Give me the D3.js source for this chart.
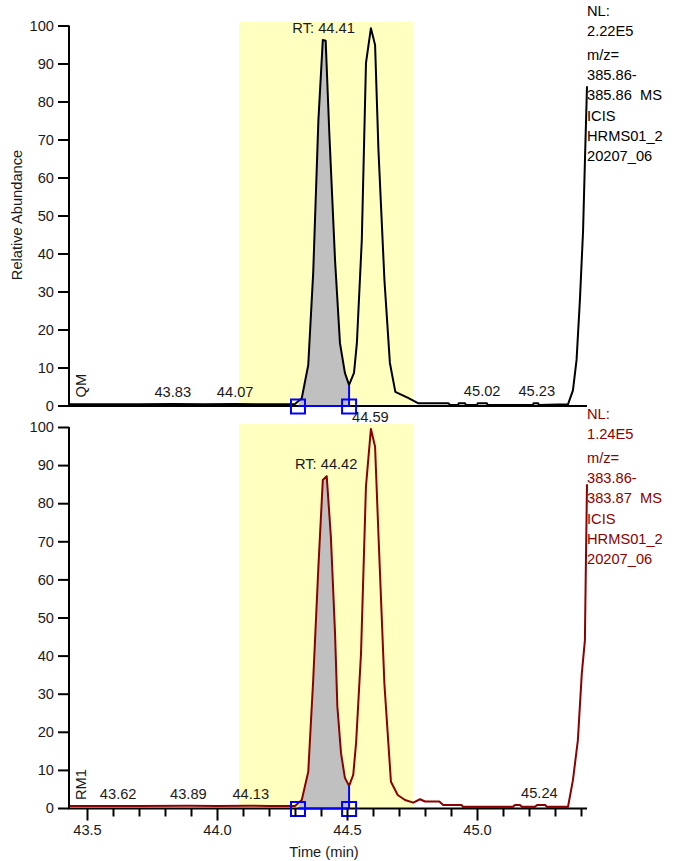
<!DOCTYPE html>
<html><head><meta charset="utf-8">
<script src="https://cdn.jsdelivr.net/npm/d3@7"></script>
<style>
html,body{margin:0;padding:0;background:#fff;}
svg{display:block;font-family:"Liberation Sans",Arial,sans-serif;}
</style></head>
<body>
<svg id="chart" width="674" height="861"></svg>
<script>
// ---- data ----
const xDomain = [43.4308, 45.4231];
const yDomain = [0, 100];
const yTicks = [0, 10, 20, 30, 40, 50, 60, 70, 80, 90, 100];
const xMajorTicks = [43.5, 44.0, 44.5, 45.0];
const xMinorTicks = [43.6, 43.7, 43.8, 43.9, 44.1, 44.2, 44.3, 44.4, 44.6, 44.7, 44.8, 44.9, 45.1, 45.2, 45.3, 45.4];
const highlightRange = [44.085, 44.754];
const integrationRange = [44.3115, 44.508];

const topTime = [43.431, 43.55, 43.70, 43.83, 43.95, 44.07, 44.20, 44.30, 44.326, 44.351, 44.370, 44.390, 44.407, 44.418, 44.432, 44.454, 44.473, 44.492, 44.508, 44.527, 44.538, 44.557, 44.573, 44.592, 44.608, 44.621, 44.644, 44.665, 44.686, 44.698, 44.735, 44.773, 44.89, 44.897, 44.927, 44.930, 44.954, 44.957, 45.000, 45.003, 45.038, 45.041, 45.215, 45.218, 45.235, 45.238, 45.35, 45.369, 45.383, 45.396, 45.408, 45.415, 45.4231];
const topValue = [0.3, 0.3, 0.3, 0.4, 0.3, 0.4, 0.3, 0.4, 1.9, 10.7, 34.9, 75.1, 96.2, 96.0, 71.7, 38.3, 16.4, 8.6, 5.4, 8.6, 16.4, 43.6, 90.1, 99.3, 94.9, 67.2, 33.0, 11.2, 3.6, 3.2, 2.0, 0.6, 0.6, 0.1, 0.1, 0.6, 0.6, 0.1, 0.1, 0.6, 0.6, 0.1, 0.1, 0.6, 0.6, 0.1, 0.3, 4.0, 12.0, 28.0, 46.0, 64.0, 84.0];

const botTime = [43.431, 43.55, 43.70, 43.89, 44.00, 44.13, 44.20, 44.30, 44.326, 44.351, 44.370, 44.390, 44.407, 44.422, 44.438, 44.454, 44.463, 44.477, 44.492, 44.508, 44.524, 44.535, 44.554, 44.573, 44.592, 44.608, 44.621, 44.644, 44.669, 44.695, 44.723, 44.755, 44.781, 44.800, 44.855, 44.870, 44.941, 44.946, 45.138, 45.146, 45.165, 45.173, 45.223, 45.231, 45.262, 45.269, 45.35, 45.369, 45.388, 45.403, 45.415, 45.419, 45.4231];
const botValue = [0.5, 0.5, 0.5, 0.6, 0.5, 0.6, 0.5, 0.5, 2.1, 9.5, 33.6, 63.3, 86.1, 87.1, 71.2, 45.9, 26.6, 14.4, 7.9, 5.8, 8.7, 17.1, 40.7, 84.5, 99.5, 94.8, 71.7, 32.4, 6.9, 3.4, 2.1, 1.4, 2.3, 1.7, 1.7, 0.8, 0.8, 0.3, 0.3, 0.8, 0.8, 0.3, 0.3, 0.8, 0.8, 0.3, 0.3, 7.3, 17.8, 35.2, 44.0, 65.0, 85.0];

const topPeakLabels = [{t: 44.41, v: 96.2, text: "RT: 44.41"}, {t: 43.83, v: 0.4, text: "43.83"}, {t: 44.07, v: 0.4, text: "44.07"}, {t: 45.02, v: 0.6, text: "45.02"}, {t: 45.23, v: 0.6, text: "45.23"}];
const botPeakLabels = [{t: 44.42, v: 87.1, text: "RT: 44.42"}, {t: 44.59, v: 99.5, text: "44.59"}, {t: 43.62, v: 0.5, text: "43.62"}, {t: 43.89, v: 0.6, text: "43.89"}, {t: 44.13, v: 0.6, text: "44.13"}, {t: 45.24, v: 0.8, text: "45.24"}];

const topInfo = ["NL:", "2.22E5", "m/z=", "385.86-", "385.86  MS", "ICIS", "HRMS01_2", "20207_06"];
const botInfo = ["NL:", "1.24E5", "m/z=", "383.86-", "383.87  MS", "ICIS", "HRMS01_2", "20207_06"];
const topName = "QM";
const botName = "RM1";
const yTitle = "Relative Abundance";
const xTitle = "Time (min)";

// ---- drawing ----
const svg = d3.select("#chart");
const FS = "14.67px";
const TXT = "#1a1a1a";
const x = d3.scaleLinear().domain(xDomain).range([69, 587]);

const panels = [
  {time: topTime, value: topValue, y: d3.scaleLinear().domain(yDomain).range([405.5, 25.5]), color: "#000000",
   labels: topPeakLabels, info: topInfo, infoColor: "#000000", name: topName, bandTop: 22, infoY: 16},
  {time: botTime, value: botValue, y: d3.scaleLinear().domain(yDomain).range([808, 427]), color: "#8b0000",
   labels: botPeakLabels, info: botInfo, infoColor: "#8b0000", name: botName, bandTop: 424, infoY: 419}
];

panels.forEach((p, idx) => {
  const data = p.time.map((t, i) => ({t, v: p.value[i]}));
  const y0 = p.y(0);
  // highlight band
  svg.append("rect")
    .attr("x", x(highlightRange[0])).attr("y", p.bandTop)
    .attr("width", x(highlightRange[1]) - x(highlightRange[0]))
    .attr("height", y0 - 1 - p.bandTop)
    .attr("fill", "#ffffc0");
  // integrated area
  const sub = data.filter(d => d.t >= integrationRange[0] && d.t <= integrationRange[1]);
  const poly = [{t: integrationRange[0], v: 0}].concat(sub).concat([{t: integrationRange[1], v: 0}]);
  svg.append("path")
    .attr("d", d3.line().x(d => x(d.t)).y(d => p.y(d.v))(poly))
    .attr("fill", "#c0c0c0");
  // trace
  svg.append("path")
    .attr("d", d3.line().x(d => x(d.t)).y(d => p.y(d.v))(data))
    .attr("fill", "none").attr("stroke", p.color).attr("stroke-width", 2)
    .attr("stroke-linejoin", "round");
  // y axis
  const ya = svg.append("g").attr("transform", "translate(69,0)")
    .call(d3.axisLeft(p.y).tickValues(yTicks).tickSize(11).tickPadding(4).tickFormat(d3.format("d")));
  ya.select(".domain").attr("stroke", "#000").attr("stroke-width", 2)
    .attr("d", `M0,${p.y(100)}V${y0 + 1}`);
  ya.selectAll(".tick line").attr("stroke", "#000").attr("stroke-width", 2);
  ya.selectAll(".tick text").attr("font-size", FS).attr("fill", TXT).attr("font-family", "Liberation Sans, Arial, sans-serif");
  // x baseline
  svg.append("line").attr("x1", 68).attr("x2", 587).attr("y1", y0 + 0.5).attr("y2", y0 + 0.5)
    .attr("stroke", "#000").attr("stroke-width", 2);
  // integration markers
  const vEnd = data.find(d => d.t === integrationRange[1]).v;
  svg.append("line").attr("x1", x(integrationRange[0])).attr("x2", x(integrationRange[1]))
    .attr("y1", y0 + 0.5).attr("y2", y0 + 0.5).attr("stroke", "#0000ff").attr("stroke-width", 2);
  svg.append("line").attr("x1", x(integrationRange[1])).attr("x2", x(integrationRange[1]))
    .attr("y1", y0 + 0.5).attr("y2", p.y(vEnd)).attr("stroke", "#0000ff").attr("stroke-width", 2);
  integrationRange.forEach(t => {
    svg.append("rect").attr("x", x(t) - 7).attr("y", y0 - 6).attr("width", 14).attr("height", 14)
      .attr("fill", "none").attr("stroke", "#0000ff").attr("stroke-width", 2);
  });
  // peak labels
  p.labels.forEach(l => {
    svg.append("text").attr("x", x(l.t)).attr("y", p.y(l.v) - 7)
      .attr("text-anchor", "middle").attr("font-size", FS).attr("fill", TXT).text(l.text);
  });
  // name (rotated)
  svg.append("text").attr("transform", `translate(86,${y0 - 8}) rotate(-90)`)
    .attr("font-size", FS).attr("fill", TXT).text(p.name);
  // info block
  const info = svg.append("text").attr("x", 587).attr("y", p.infoY)
    .attr("font-size", FS).attr("fill", p.infoColor);
  p.info.forEach((s, i) => {
    info.append("tspan").attr("x", 587)
      .attr("y", p.infoY + i * 20.3 + (i >= 2 ? 3 : 0))
      .attr("xml:space", "preserve").style("white-space", "pre").text(s);
  });
});

// bottom x axis ticks
const yb = panels[1].y(0);
const xa = svg.append("g").attr("transform", `translate(0,${yb + 0.5})`)
  .call(d3.axisBottom(x).tickValues(xMajorTicks).tickSize(12).tickPadding(4).tickFormat(d3.format(".1f")));
xa.select(".domain").remove();
xa.selectAll(".tick line").attr("stroke", "#000").attr("stroke-width", 2);
xa.selectAll(".tick text").attr("font-size", FS).attr("fill", TXT).attr("font-family", "Liberation Sans, Arial, sans-serif");
const xm = svg.append("g").attr("transform", `translate(0,${yb + 0.5})`)
  .call(d3.axisBottom(x).tickValues(xMinorTicks).tickSize(8).tickFormat(""));
xm.select(".domain").remove();
xm.selectAll(".tick line").attr("stroke", "#000").attr("stroke-width", 2);

// axis titles
svg.append("text").attr("x", 324).attr("y", 857).attr("text-anchor", "middle")
  .attr("font-size", FS).attr("fill", TXT).text(xTitle);
svg.append("text").attr("transform", "translate(22,215) rotate(-90)").attr("text-anchor", "middle")
  .attr("font-size", FS).attr("fill", TXT).text(yTitle);
</script>
</body></html>
